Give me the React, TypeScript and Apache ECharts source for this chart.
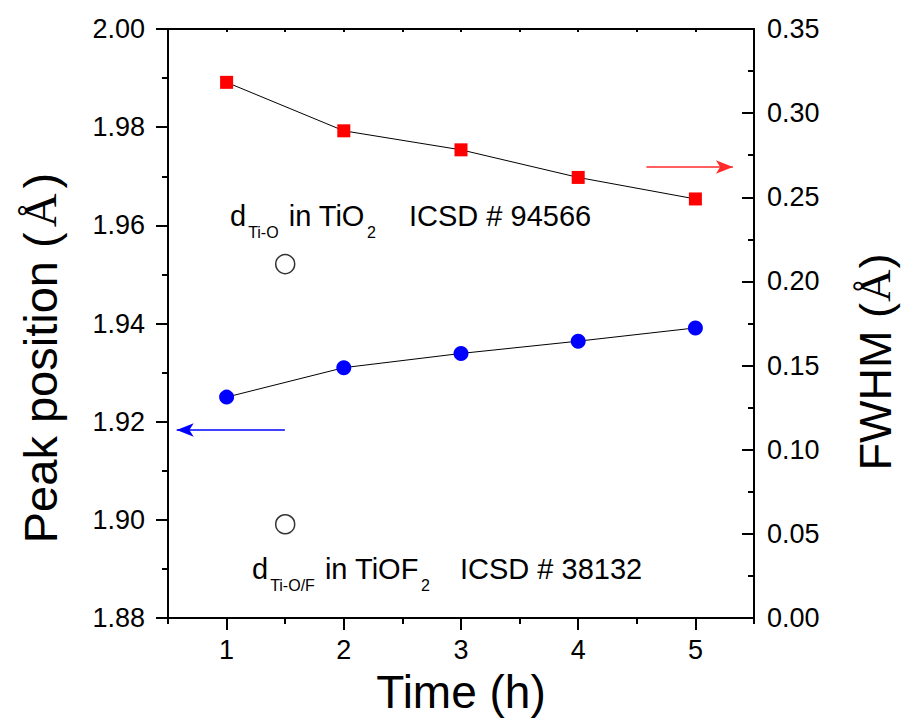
import { useEffect, useRef } from 'react';
import * as echarts from 'echarts';

const times = [1, 2, 3, 4, 5];
const peakPosition = [1.925, 1.931, 1.9339, 1.9364, 1.9391];
const fwhm = [0.3183, 0.2895, 0.2782, 0.2618, 0.249];
const refTime = 1.5;
const refPositions = [1.9521, 1.8991];
const xMajorTicks = [1, 2, 3, 4, 5];
const xMinorTicks = [0.5, 1.5, 2.5, 3.5, 4.5, 5.5];
const leftArrow = [[1.497, 1.9183], [0.574, 1.9183]];
const rightArrow = [[4.582, 0.268], [5.32, 0.268]];
const annotation1 = ['d', 'Ti-O', ' in TiO', '2', 'ICSD # 94566'];
const annotation2 = ['d', 'Ti-O/F', ' in TiOF', '2', 'ICSD # 38132'];
const xTitle = 'Time (h)';
const leftTitle = ['Peak position (', 'Å', ')'];
const rightTitle = ['FWHM (', 'Å', ')'];

const FONT = '"Liberation Sans", Arial, Helvetica, sans-serif';
const SERIF = '"Liberation Serif", "Times New Roman", serif';

export default function App() {
  const ref = useRef<HTMLDivElement>(null);
  useEffect(() => {
    const chart = echarts.init(ref.current!, null, { renderer: 'svg' });
    const black = { color: '#000', width: 2 };
    const axisLine = { show: true, onZero: false, lineStyle: black };
    const tickLabel = { fontSize: 27, color: '#000', fontFamily: FONT };
    const titleRich = {
      t: { fontSize: 47, fontFamily: FONT, color: '#000' },
      a: { fontSize: 47, fontFamily: SERIF, color: '#000', padding: [0, 5] },
    };
    const titleRichR = {
      t: { fontSize: 45, fontFamily: FONT, color: '#000' },
      a: { fontSize: 45, fontFamily: SERIF, color: '#000', padding: [0, 1] },
    };
    const rich = {
      m: { fontSize: 29, lineHeight: 49, fontFamily: FONT, color: '#000' },
      s: { fontSize: 16, lineHeight: 14, fontFamily: FONT, color: '#000', verticalAlign: 'bottom', padding: [0, 2] },
    };
    const annText = (a: string[]) => `{m|${a[0]}}{s|${a[1]}}{m|${a[2]}}{s|${a[3]}}`;
    const titleText = (a: string[]) => `{t|${a[0]}}{a|${a[1]}}{t|${a[2]}}`;
    const option: any = {
      animation: false,
      backgroundColor: '#fff',
      grid: { left: 168, right: 147, top: 29, bottom: 101, containLabel: false, outerBoundsMode: 'none' },
      xAxis: [
        {
          type: 'value', position: 'bottom', min: 0.5, max: 5.5,
          axisLine,
          axisTick: { show: true, inside: false, length: 12, customValues: xMajorTicks, lineStyle: black },
          axisLabel: {
            ...tickLabel, lineHeight: 22, margin: 21, customValues: xMajorTicks,
            formatter: (v: number) => String(v),
          },
          splitLine: { show: false },
        },
        {
          type: 'value', position: 'bottom', min: 0.5, max: 5.5,
          axisLine: { show: false },
          axisTick: { show: true, inside: false, length: 6, customValues: xMinorTicks, lineStyle: black },
          axisLabel: { show: false },
          splitLine: { show: false },
        },
        {
          type: 'value', position: 'top', min: 0.5, max: 5.5, interval: 0.5,
          axisLine,
          axisTick: { show: true, inside: true, length: 3, lineStyle: black },
          axisLabel: { show: false },
          splitLine: { show: false },
        },
      ],
      yAxis: [
        {
          type: 'value', position: 'left', min: 1.88, max: 2.0, interval: 0.02,
          axisLine,
          axisTick: { show: true, inside: false, length: 12, lineStyle: black },
          minorTick: { show: true, splitNumber: 2, length: 6, lineStyle: black },
          axisLabel: { ...tickLabel, margin: 23, formatter: (v: number) => v.toFixed(2) },
          splitLine: { show: false },
          minorSplitLine: { show: false },
        },
        {
          type: 'value', position: 'right', min: 0, max: 0.35, interval: 0.05,
          axisLine,
          axisTick: { show: true, inside: true, length: 12, lineStyle: black },
          minorTick: { show: true, splitNumber: 2, length: 6, lineStyle: black },
          axisLabel: { ...tickLabel, margin: 13, formatter: (v: number) => v.toFixed(2) },
          splitLine: { show: false },
          minorSplitLine: { show: false },
        },
      ],
      series: [
        {
          name: 'Peak position', type: 'line', xAxisIndex: 0, yAxisIndex: 0,
          data: times.map((t, i) => [t, peakPosition[i]]),
          symbol: 'circle', symbolSize: 15,
          itemStyle: { color: '#0000ff' },
          lineStyle: { color: '#000', width: 1 },
          markLine: {
            silent: true, symbol: ['none', 'arrow'], symbolSize: [10, 17],
            lineStyle: { color: '#0000ff', width: 1.5, type: 'solid' },
            label: { show: false },
            data: [[{ coord: leftArrow[0] }, { coord: leftArrow[1] }]],
          },
          z: 3,
        },
        {
          name: 'FWHM', type: 'line', xAxisIndex: 0, yAxisIndex: 1,
          data: times.map((t, i) => [t, fwhm[i]]),
          symbol: 'rect', symbolSize: 13,
          itemStyle: { color: '#ff0000' },
          lineStyle: { color: '#000', width: 1 },
          markLine: {
            silent: true, symbol: ['none', 'arrow'], symbolSize: [10, 17],
            lineStyle: { color: '#ff2a2a', width: 1.5, type: 'solid' },
            label: { show: false },
            data: [[{ coord: rightArrow[0] }, { coord: rightArrow[1] }]],
          },
          z: 3,
        },
        {
          name: 'Reference', type: 'scatter', xAxisIndex: 0, yAxisIndex: 0,
          data: refPositions.map((v) => [refTime, v]),
          symbol: 'circle', symbolSize: 19,
          itemStyle: { color: '#fff', borderColor: '#000', borderWidth: 1.5 },
          z: 3,
        },
      ],
      graphic: [
        { type: 'text', left: 230, top: 201, style: { text: annText(annotation1), rich } },
        { type: 'text', left: 409, top: 201, style: { text: `{m|${annotation1[4]}}`, rich } },
        { type: 'text', left: 252, top: 554, style: { text: annText(annotation2), rich } },
        { type: 'text', left: 460, top: 554, style: { text: `{m|${annotation2[4]}}`, rich } },
        {
          type: 'text', x: 461, y: 692,
          style: {
            text: xTitle, fontSize: 46, lineHeight: 40, fontFamily: FONT, fill: '#000',
            align: 'center', verticalAlign: 'middle',
          },
        },
        {
          type: 'text', x: 40, y: 358, rotation: Math.PI / 2,
          style: { text: titleText(leftTitle), rich: titleRich, align: 'center', verticalAlign: 'middle' },
        },
        {
          type: 'text', x: 875, y: 362, rotation: Math.PI / 2,
          style: { text: titleText(rightTitle), rich: titleRichR, align: 'center', verticalAlign: 'middle' },
        },
      ],
    };
    chart.setOption(option);
    return () => chart.dispose();
  }, []);
  return (
    <div
      ref={ref}
      style={{ position: 'absolute', left: 0, top: 0, width: 901, height: 719, background: '#fff' }}
    />
  );
}
